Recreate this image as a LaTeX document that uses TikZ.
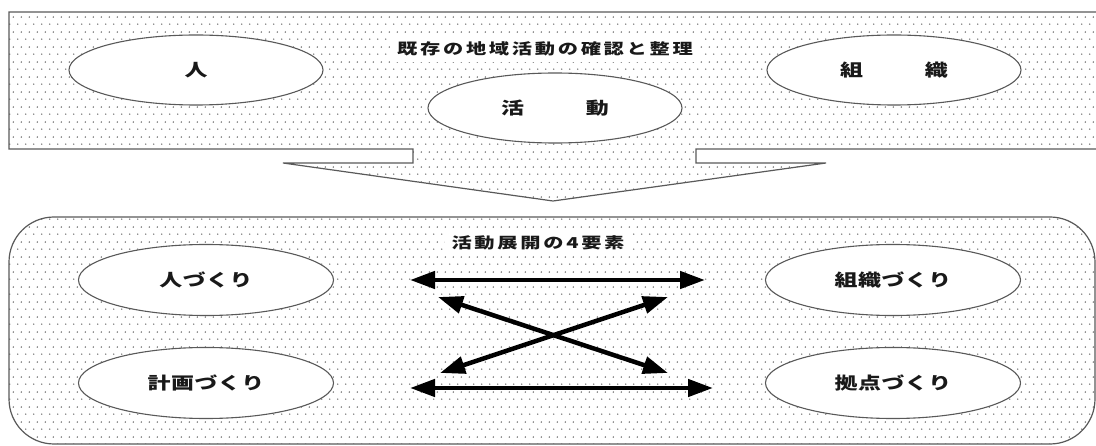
\documentclass[tikz,border=0pt]{standalone}
\usepackage{fontspec}
\usetikzlibrary{arrows.meta,shapes.geometric,patterns}
\newfontfamily\jp[FakeStretch=1.35]{Noto Sans CJK JP}
\pgfdeclarepatternformonly{mydots}{\pgfpointorigin}{\pgfqpoint{8pt}{15pt}}{\pgfqpoint{8pt}{15pt}}{%
  \pgfpathcircle{\pgfqpoint{2pt}{2pt}}{0.9pt}%
  \pgfpathcircle{\pgfqpoint{6pt}{9.5pt}}{0.9pt}%
  \pgfusepath{fill}}
\definecolor{edge}{gray}{0.35}
\definecolor{ink}{gray}{0.1}
\tikzset{
  dotfill/.style={pattern=mydots, pattern color=gray!85!black},
  oval/.style={ellipse, draw=edge, line width=1.1pt, fill=white, minimum width=254pt, minimum height=70pt, inner sep=0pt,
    font=\jp\bfseries\fontsize{17pt}{19pt}\selectfont\addfontfeature{LetterSpace=3}, text=ink},
  heading/.style={fill=white, inner xsep=7pt, inner ysep=6pt,
    font=\jp\bfseries\fontsize{15pt}{17pt}\selectfont\addfontfeature{LetterSpace=18}, text=ink},
  dbl/.style={{Triangle[length=25pt,width=17pt]}-{Triangle[length=25pt,width=17pt]}, line width=4.5pt, black},
}
\begin{document}
\begin{tikzpicture}[x=1pt,y=-1pt]
\useasboundingbox (0,0) rectangle (1096,446);
% top box with arrow
\draw[dotfill, draw=edge, line width=1.2pt]
  (9,12) -- (1110,12) -- (1110,149) -- (696,149) -- (696,163) -- (826,163) -- (553,201)
  -- (283,163) -- (413,163) -- (413,149) -- (9,149) -- cycle;
% bottom box
\draw[dotfill, draw=edge, line width=1.2pt, rounded corners=45pt] (9,217) rectangle (1095,444);
% titles
\node[heading] (t1) at (545,49) {既存の地域活動の確認と整理};
\node[heading] (t2) at (538,243) {活動展開の4要素};
% top ellipses
\node[oval] (hito) at (196,70) {人};
\node[oval] (katsu) at (555,108) {活\hspace{62pt}動};
\node[oval] (soshiki) at (894,70) {組\hspace{62pt}織};
% bottom ellipses
\node[oval, minimum width=255pt, minimum height=71pt] (hz) at (206,280) {人づくり};
\node[oval, minimum width=255pt, minimum height=71pt] (kz) at (206,383) {計画づくり};
\node[oval, minimum width=255pt, minimum height=71pt] (sz) at (893,280) {組織づくり};
\node[oval, minimum width=255pt, minimum height=71pt] (tz) at (893,383) {拠点づくり};
% arrows
\coordinate (h1) at (410,280);
\coordinate (h2) at (705,280);
\coordinate (b1) at (410,388);
\coordinate (b2) at (713,388);
\coordinate (d1) at (438,297);
\coordinate (d2) at (668,373);
\coordinate (e1) at (440,373);
\coordinate (e2) at (668,297);
\draw[dbl] (h1) -- (h2);
\draw[dbl] (b1) -- (b2);
\draw[dbl] (d1) -- (d2);
\draw[dbl] (e1) -- (e2);
\end{tikzpicture}
\end{document}
